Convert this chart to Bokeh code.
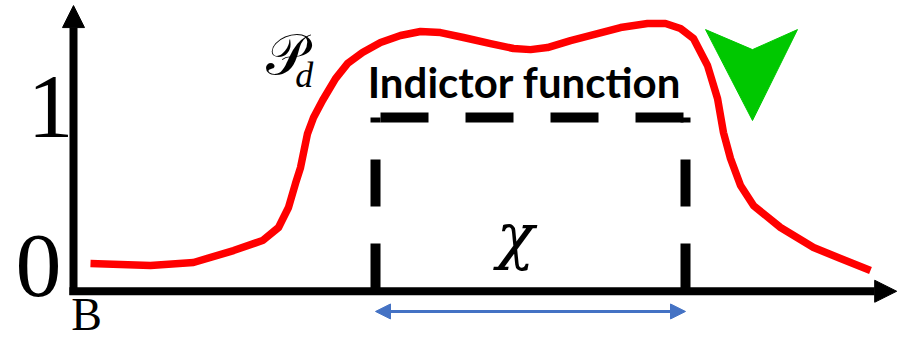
from bokeh.plotting import figure
from bokeh.models import Arrow, NormalHead
from bokeh.core.properties import value
from bokeh.embed import file_html
from bokeh.resources import INLINE

# ---- data (x in B-units along the axis, y in probability units) ----
curve_x = [0.206, 0.934, 1.456, 1.942, 2.294, 2.488, 2.609, 2.694, 2.755, 2.840,
           2.913, 3.022, 3.180, 3.325, 3.507, 3.726, 3.968, 4.211, 4.454, 4.733,
           5.061, 5.340, 5.546, 5.752, 6.032, 6.359, 6.638, 6.966, 7.184, 7.366,
           7.524, 7.694, 7.816, 7.888, 7.973, 8.095, 8.252, 8.580, 8.981, 9.308, 9.672]
curve_y = [0.013, 0.000, 0.019, 0.094, 0.157, 0.239, 0.365, 0.516, 0.616, 0.830,
           0.931, 1.038, 1.176, 1.270, 1.340, 1.403, 1.447, 1.472, 1.465, 1.434,
           1.396, 1.365, 1.358, 1.371, 1.415, 1.459, 1.497, 1.522, 1.522, 1.491,
           1.428, 1.258, 1.050, 0.836, 0.673, 0.503, 0.377, 0.239, 0.113, 0.044, -0.031]

chi_interval = [3.665, 7.427]      # support of the indicator function
indicator_level = 0.931
axis_level = -0.157                # where the horizontal axis sits
axis_x_end = 9.99
axis_y_end = 1.635
span_arrow_y = -0.289

marker_x = [7.670, 8.240, 8.786, 8.240]   # green down-pointing marker
marker_y = [1.484, 1.358, 1.484, 0.912]

tick_labels = ["0", "1"]
tick_label_x = [-0.425, -0.279]
tick_label_y = [-0.006, 1.000]

# ---- figure ----
p = figure(width=899, height=341, x_range=(-0.886, 10.024), y_range=(-0.478, 1.667),
           output_backend="svg", toolbar_location=None, x_axis_type=None, y_axis_type=None,
           min_border=0, outline_line_color=None, background_fill_color="white")
p.grid.visible = False

# axes with arrow heads
p.add_layout(Arrow(x_start=-0.05, y_start=axis_level - 0.005, x_end=axis_x_end, y_end=axis_level - 0.005,
                   line_width=8, line_color="black",
                   end=NormalHead(size=22, fill_color="black", line_color="black", line_width=1)))
p.add_layout(Arrow(x_start=0, y_start=-0.185, x_end=0, y_end=axis_y_end,
                   line_width=8, line_color="black",
                   end=NormalHead(size=22, fill_color="black", line_color="black", line_width=1)))

# red density curve
p.line(curve_x, curve_y, line_color="#FF0000", line_width=7.5, line_join="round", line_cap="butt")

# dashed indicator function box
p.line([chi_interval[0], chi_interval[0]], [axis_level, indicator_level],
       line_color="black", line_width=10, line_dash="47 37")
p.line([chi_interval[1], chi_interval[1]], [axis_level, indicator_level],
       line_color="black", line_width=10, line_dash="47 37")
p.line([chi_interval[0], chi_interval[1]], [indicator_level, indicator_level],
       line_color="black", line_width=10, line_dash="48 37", line_dash_offset=-5)

# blue span arrow
p.add_layout(Arrow(x_start=chi_interval[0], y_start=span_arrow_y, x_end=chi_interval[1], y_end=span_arrow_y,
                   line_width=3, line_color="#4472C4",
                   start=NormalHead(size=15, fill_color="#4472C4", line_color="#4472C4", line_width=1),
                   end=NormalHead(size=15, fill_color="#4472C4", line_color="#4472C4", line_width=1)))

# green marker
p.patch(marker_x, marker_y, fill_color="#00C800", line_color="#00C800", line_width=1)

# texts
p.text(x=tick_label_x, y=tick_label_y, text=tick_labels, text_font=value("Liberation Serif"),
       text_font_size="92px", text_align="center", text_baseline="alphabetic", text_color="black")
p.text(x=[0.158], y=[-0.311], text=["B"], text_font=value("Liberation Serif"),
       text_font_size="46px", text_align="center", text_baseline="alphabetic", text_color="black")
p.text(x=[5.473], y=[1.157], text=["Indictor function"], text_font=value("Lato"),
       text_font_style="bold", text_font_size="42px", text_align="center",
       text_baseline="alphabetic", text_color="black")
p.text(x=[5.364], y=[0.190], text=["χ"], text_font=value("DejaVu Serif"),
       text_font_style="italic", text_font_size="62px", text_align="center",
       text_baseline="alphabetic", text_color="black")
p.text(x=[2.33], y=[1.327], text=["𝒫"], text_font=value("DejaVu Serif"),
       text_font_size="56px", text_align="left", text_baseline="alphabetic", text_color="black")
p.text(x=[2.69], y=[1.201], text=["d"], text_font=value("Liberation Serif"),
       text_font_style="italic", text_font_size="36px", text_align="left",
       text_baseline="alphabetic", text_color="black")

open("out.html", "w").write(file_html(p, INLINE))
